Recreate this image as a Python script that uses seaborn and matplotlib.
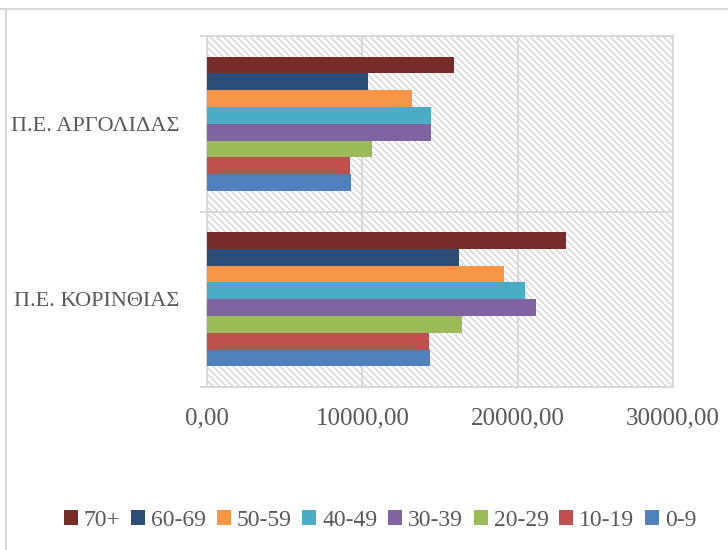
import pandas as pd
import matplotlib
matplotlib.use("Agg")
import matplotlib.pyplot as plt
import seaborn as sns
from matplotlib.patches import Rectangle
from matplotlib.lines import Line2D
from matplotlib.ticker import FuncFormatter, FixedLocator

# data
regions = ["Π.Ε. ΑΡΓΟΛΙΔΑΣ", "Π.Ε. ΚΟΡΙΝΘΙΑΣ"]
age_groups = ["70+", "60-69", "50-59", "40-49", "30-39", "20-29", "10-19", "0-9"]
argolidas = [15900, 10350, 13200, 14420, 14450, 10600, 9200, 9270]
korinthias = [23100, 16250, 19100, 20500, 21200, 16400, 14300, 14360]
colors = ["#772C2A", "#2C4D75", "#F79646", "#4BACC6",
          "#8064A2", "#9BBB59", "#C0504D", "#4F81BD"]
x_ticks = [0, 10000, 20000, 30000]

rows = []
for grp, a, k in zip(age_groups, argolidas, korinthias):
    rows.append({"region": regions[0], "age": grp, "value": a})
    rows.append({"region": regions[1], "age": grp, "value": k})
df = pd.DataFrame(rows)

sns.set_theme(style="white")
plt.rcParams["font.family"] = ["Liberation Serif", "DejaVu Serif"]
text_col = "#595959"
line_col = "#d9d9d9"
plt.rcParams["hatch.color"] = "#dcdcdc"
plt.rcParams["hatch.linewidth"] = 1.2

fig = plt.figure(figsize=(7.28, 5.5), dpi=100)
ax = fig.add_axes([207 / 728, 1 - 387 / 550, 466 / 728, 351 / 550])

# hatched plot area background
ax.add_patch(Rectangle((0, 0), 1, 1, transform=ax.transAxes, facecolor="white",
                       edgecolor=line_col, hatch="\\\\\\\\\\", linewidth=0, zorder=0))

sns.barplot(data=df, y="region", x="value", hue="age", order=regions,
            hue_order=age_groups, palette=colors, orient="h", width=0.766,
            gap=0, saturation=1, linewidth=0, ax=ax, zorder=3, legend=True)

ax.set_xlim(0, 30000)
ax.set_ylim(1.5, -0.5)
ax.set_xlabel("")
ax.set_ylabel("")
ax.xaxis.set_major_locator(FixedLocator(x_ticks))
ax.xaxis.set_major_formatter(FuncFormatter(lambda v, p: f"{v:.2f}".replace(".", ",")))
ax.tick_params(axis="x", length=0, pad=15, labelsize=18, labelcolor=text_col)
ax.tick_params(axis="y", which="major", length=0, pad=20, labelsize=16, labelcolor=text_col)
ax.yaxis.set_minor_locator(FixedLocator([-0.5, 0.5, 1.5]))
ax.tick_params(axis="y", which="minor", length=5, width=1.5, color=line_col, left=True)

for v in x_ticks[1:-1]:
    ax.axvline(v, color=line_col, lw=1.5, zorder=1)
ax.axhline(0.5, color=line_col, lw=1.5, zorder=1)
for s in ax.spines.values():
    s.set_color(line_col)
    s.set_linewidth(1.5)

handles, labels = ax.get_legend_handles_labels()
ax.legend_.remove()
fig.legend(handles, labels, loc="center", bbox_to_anchor=(380 / 728, 1 - 520 / 550),
           ncol=8, frameon=False, fontsize=17, handlelength=0.6, handleheight=0.6,
           handletextpad=0.25, columnspacing=0.45, labelcolor=text_col)

# outer chart frame (partially cropped in the reference)
fig.add_artist(Line2D([0, 1], [1 - 9 / 550, 1 - 9 / 550], color=line_col, lw=1.5,
                      transform=fig.transFigure))
fig.add_artist(Line2D([6 / 728, 6 / 728], [0, 1 - 9 / 550], color=line_col, lw=1.5,
                      transform=fig.transFigure))

fig.savefig("out.png", dpi=100)
